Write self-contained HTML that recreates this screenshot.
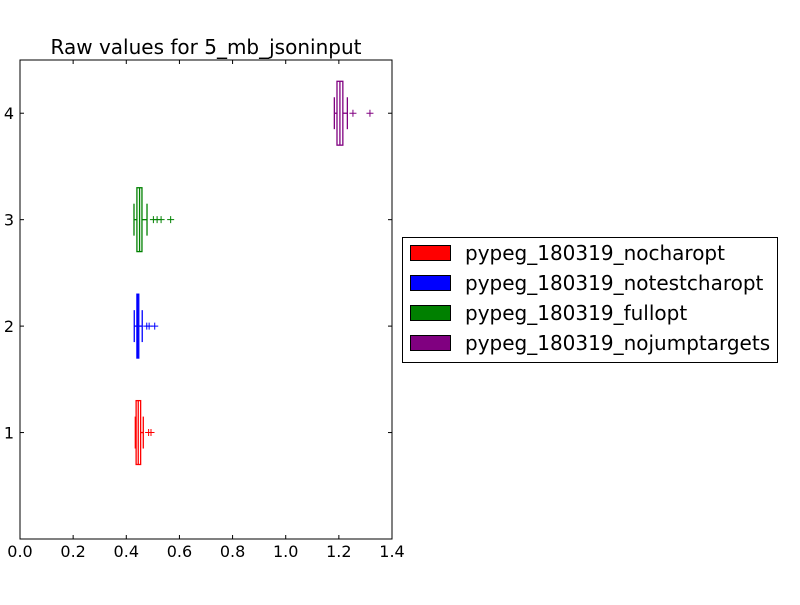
<!DOCTYPE html>
<html><head><meta charset="utf-8"><style>
body{margin:0;background:#fff;}
svg text{font-family:"DejaVu Sans","Liberation Sans",sans-serif;}
</style></head><body>
<svg id="chart" width="800" height="600" xmlns="http://www.w3.org/2000/svg">
<rect width="800" height="600" fill="#fff"/>
<text x="206" y="54" font-size="20" text-anchor="middle">Raw values for 5_mb_jsoninput</text>
<g id="plot"></g>
<rect x="20" y="60" width="372" height="479" fill="none" stroke="#000" stroke-width="1"/>
<g>
<rect x="402.5" y="237.5" width="375" height="125" fill="#fff" stroke="#000"/>
</g>
<g id="legend-items"></g>
</svg>
<script>
const categories=["pypeg_180319_nocharopt","pypeg_180319_notestcharopt","pypeg_180319_fullopt","pypeg_180319_nojumptargets"];
const colors=["#ff0000","#0000ff","#008000","#800080"];
const positions=[1,2,3,4];
const whiskerLow=[0.434,0.430,0.429,1.183];
const q1=[0.437,0.440,0.440,1.193];
const medians=[0.445,0.443,0.450,1.204];
const q3=[0.454,0.447,0.459,1.215];
const whiskerHigh=[0.464,0.460,0.478,1.232];
const fliers=[[0.484,0.493],[0.477,0.486,0.507],[0.502,0.516,0.531,0.567],[1.253,1.317]];
const xTicks=[0,0.2,0.4,0.6,0.8,1.0,1.2,1.4];
const yTicks=[1,2,3,4];

const NS="http://www.w3.org/2000/svg";
const X=v=>20+v/1.4*372;
const Y=v=>539-v/4.5*479;
const g=document.getElementById('plot');
function mk(tag,attrs,parent){const e=document.createElementNS(NS,tag);for(const k in attrs)e.setAttribute(k,attrs[k]);(parent||g).appendChild(e);return e;}

xTicks.forEach(t=>{
  const x=X(t);
  const a=mk('line',{x1:x,x2:x,y1:539,y2:535,stroke:'#000'});
  
  
  const b=mk('line',{x1:x,x2:x,y1:60,y2:64,stroke:'#000'});
  
  
  const l=mk('text',{x:x,y:557,'font-size':16,'text-anchor':'middle'});
  l.textContent=t.toFixed(1);
  
  
});
yTicks.forEach(t=>{
  const y=Y(t);
  const a=mk('line',{x1:20,x2:24,y1:y,y2:y,stroke:'#000'});
  
  
  const b=mk('line',{x1:392,x2:388,y1:y,y2:y,stroke:'#000'});
  
  
  const l=mk('text',{x:14,y:y+6,'font-size':16,'text-anchor':'end'});
  l.textContent=t;
  
  
});

const hb=0.3*479/4.5, hc=0.15*479/4.5;
categories.forEach((c,i)=>{
  const col=colors[i], y=Y(positions[i]);
  const grp=mk('g',{stroke:col,fill:'none','stroke-width':1.3});
  
  
  mk('line',{x1:X(whiskerLow[i]),x2:X(q1[i]),y1:y,y2:y},grp);
  mk('line',{x1:X(q3[i]),x2:X(whiskerHigh[i]),y1:y,y2:y},grp);
  mk('line',{x1:X(whiskerLow[i]),x2:X(whiskerLow[i]),y1:y-hc,y2:y+hc},grp);
  mk('line',{x1:X(whiskerHigh[i]),x2:X(whiskerHigh[i]),y1:y-hc,y2:y+hc},grp);
  mk('rect',{x:X(q1[i]),y:y-hb,width:Math.max(1,X(q3[i])-X(q1[i])),height:2*hb},grp);
  mk('line',{x1:X(medians[i]),x2:X(medians[i]),y1:y-hb,y2:y+hb},grp);
  fliers[i].forEach(f=>{
    const fx=X(f);
    const p=mk('path',{d:`M${fx-3.5},${y}H${fx+3.5}M${fx},${y-3.5}V${y+3.5}`,'stroke-width':1},grp);
    
    
  });
});

const lg=document.getElementById('legend-items');
categories.forEach((c,i)=>{
  const y=253+i*30;
  const r=mk('rect',{x:410.5,y:y-7.5,width:40,height:15,fill:colors[i],stroke:'#000'},lg);
  
  
  const t=mk('text',{x:465,y:y+7,'font-size':20},lg);
  t.textContent=c;
  
  
});
</script>
</body></html>
